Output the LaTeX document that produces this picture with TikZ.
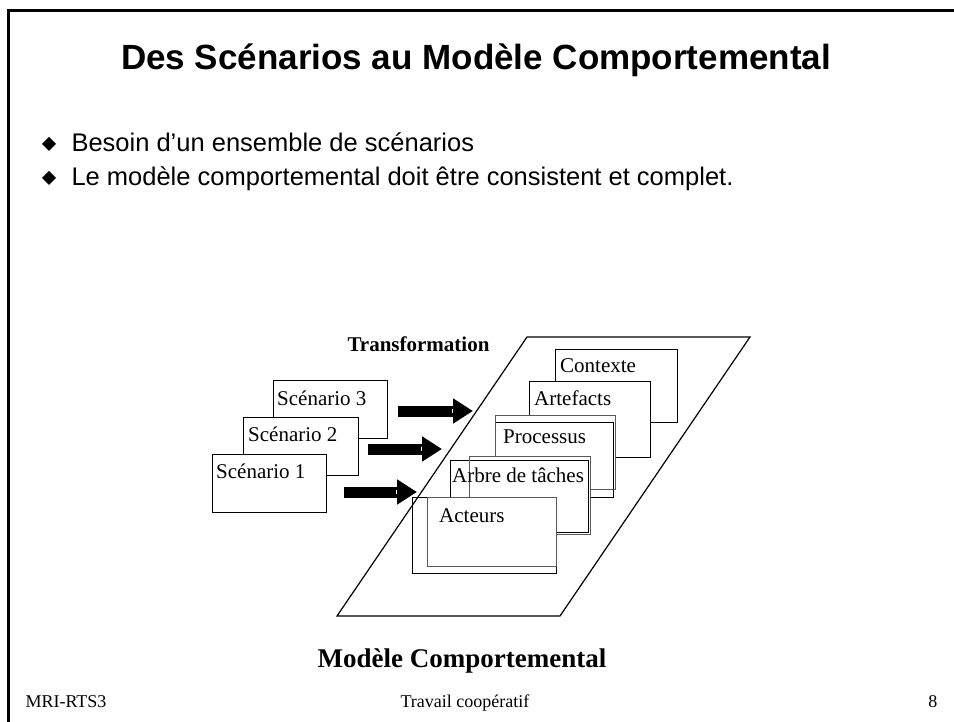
\documentclass[tikz,border=0pt]{standalone}
\usepackage{fontspec}
\setmainfont{Liberation Serif}
\newfontfamily\arial{Liberation Sans}
\usetikzlibrary{arrows.meta}

\begin{document}
\begin{tikzpicture}[x=1pt, y=-1pt,
	card/.style={draw, fill=white, line width=1.2pt, anchor=north west, inner sep=0pt},
	sheet/.style={draw=black!65, fill=white, line width=0.8pt, anchor=north west, inner sep=0pt},
	lbl/.style={anchor=base west, inner sep=0pt, font=\fontsize{21}{25}\selectfont},
	fatarrow/.style={line width=11pt, -{Triangle[width=24pt, length=20pt]}}]
	\useasboundingbox (0,0) rectangle (954,722);

	% slide frame
	\draw [line width=3pt] (8.5,722) -- (8.5,11) -- (954,11);

	\node [anchor=base, font=\arial\bfseries\fontsize{35}{42}\selectfont] (title) at (476,70) {Des Scénarios au Modèle Comportemental};
	\fill (49,144) +(0,-7) -- +(7,0) -- +(0,7) -- +(-7,0) -- cycle;
	\fill (49,178) +(0,-7) -- +(7,0) -- +(0,7) -- +(-7,0) -- cycle;
	\node [anchor=base west, font=\arial\fontsize{25.5}{30}\selectfont] (b1) at (68,152) {Besoin d’un ensemble de scénarios};
	\node [anchor=base west, font=\arial\fontsize{25.5}{30}\selectfont] (b2) at (68,186) {Le modèle comportemental doit être consistent et complet.};

	% scenarios
	\node [card, minimum width=114pt, minimum height=58pt] (s3) at (273,380) {};
	\node [lbl] (t3) at ([shift={(4,25)}]s3.north west) {Scénario 3};
	\node [card, minimum width=115pt, minimum height=58pt] (s2) at (243,417) {};
	\node [lbl] (t2) at ([shift={(5,24)}]s2.north west) {Scénario 2};
	\node [card, minimum width=114pt, minimum height=58pt] (s1) at (212,454) {};
	\node [lbl] (t1) at ([shift={(4,24)}]s1.north west) {Scénario 1};

	\coordinate (A3) at (398,411);
	\coordinate (B3) at (473,411);
	\coordinate (A2) at (368,449);
	\coordinate (B2) at (442,449);
	\coordinate (A1) at (344,492);
	\coordinate (B1) at (417,492);
	\foreach \i in {1,2,3} {
		\draw [fatarrow] (A\i) -- (B\i);
		\draw [white, line width=1pt] ([shift={(-21,-2.5)}]B\i) -- ([shift={(-21,2)}]B\i);
	}

	% model
	\node [card, minimum width=122pt, minimum height=73pt] (ctx) at (555,349) {};
	\node [lbl] (tctx) at ([shift={(5,24)}]ctx.north west) {Contexte};
	\node [card, minimum width=121pt, minimum height=76pt] (art) at (529,381) {};
	\node [lbl] (tart) at ([shift={(5,24)}]art.north west) {Artefacts};

	\node [sheet, minimum width=120pt, minimum height=74pt] (pro1) at (495,415) {};
	\node [card, minimum width=118pt, minimum height=75pt] (pro) at (495,422) {};
	\draw [draw=black!65, line width=0.8pt] (pro1.north west) rectangle (pro1.south east);
	\node [lbl] (tpro) at ([shift={(8,21)}]pro.north west) {Processus};

	\node [sheet, minimum width=121pt, minimum height=78pt] (arb1) at (469,456) {};
	\node [card, minimum width=138pt, minimum height=72pt] (arb) at (450,460) {};
	\draw [draw=black!65, line width=0.8pt] (arb1.north west) rectangle (arb1.south east);
	\node [lbl] (tarb) at ([shift={(2,22)}]arb.north west) {Arbre de tâches};

	\node [card, minimum width=144pt, minimum height=76pt] (act) at (412,497) {};
	\node [sheet, fill=none, minimum width=129pt, minimum height=69pt] (act1) at (427,497) {};
	\node [lbl] (tact) at ([shift={(27,25)}]act.north west) {Acteurs};

	\coordinate (P1) at (527,337);
	\coordinate (P2) at (750,337);
	\coordinate (P3) at (560,616);
	\coordinate (P4) at (337,616);
	\draw [line width=1.2pt] (P1) -- (P2) -- (P3) -- (P4) -- cycle;

	\node [anchor=base west, font=\bfseries\fontsize{21}{25}\selectfont] (trans) at (344,352) {Transformation};
	\node [anchor=base, font=\bfseries\fontsize{27}{32}\selectfont] (mc) at (462,667) {Modèle Comportemental};

	% footer
	\node [anchor=base west, font=\fontsize{18}{21}\selectfont] (f1) at (22,707) {MRI-RTS3};
	\node [anchor=base, font=\fontsize{18}{21}\selectfont] (f2) at (465,707) {Travail coopératif};
	\node [anchor=base east, font=\fontsize{18}{21}\selectfont] (f3) at (941,707) {8};
\end{tikzpicture}
\end{document}
